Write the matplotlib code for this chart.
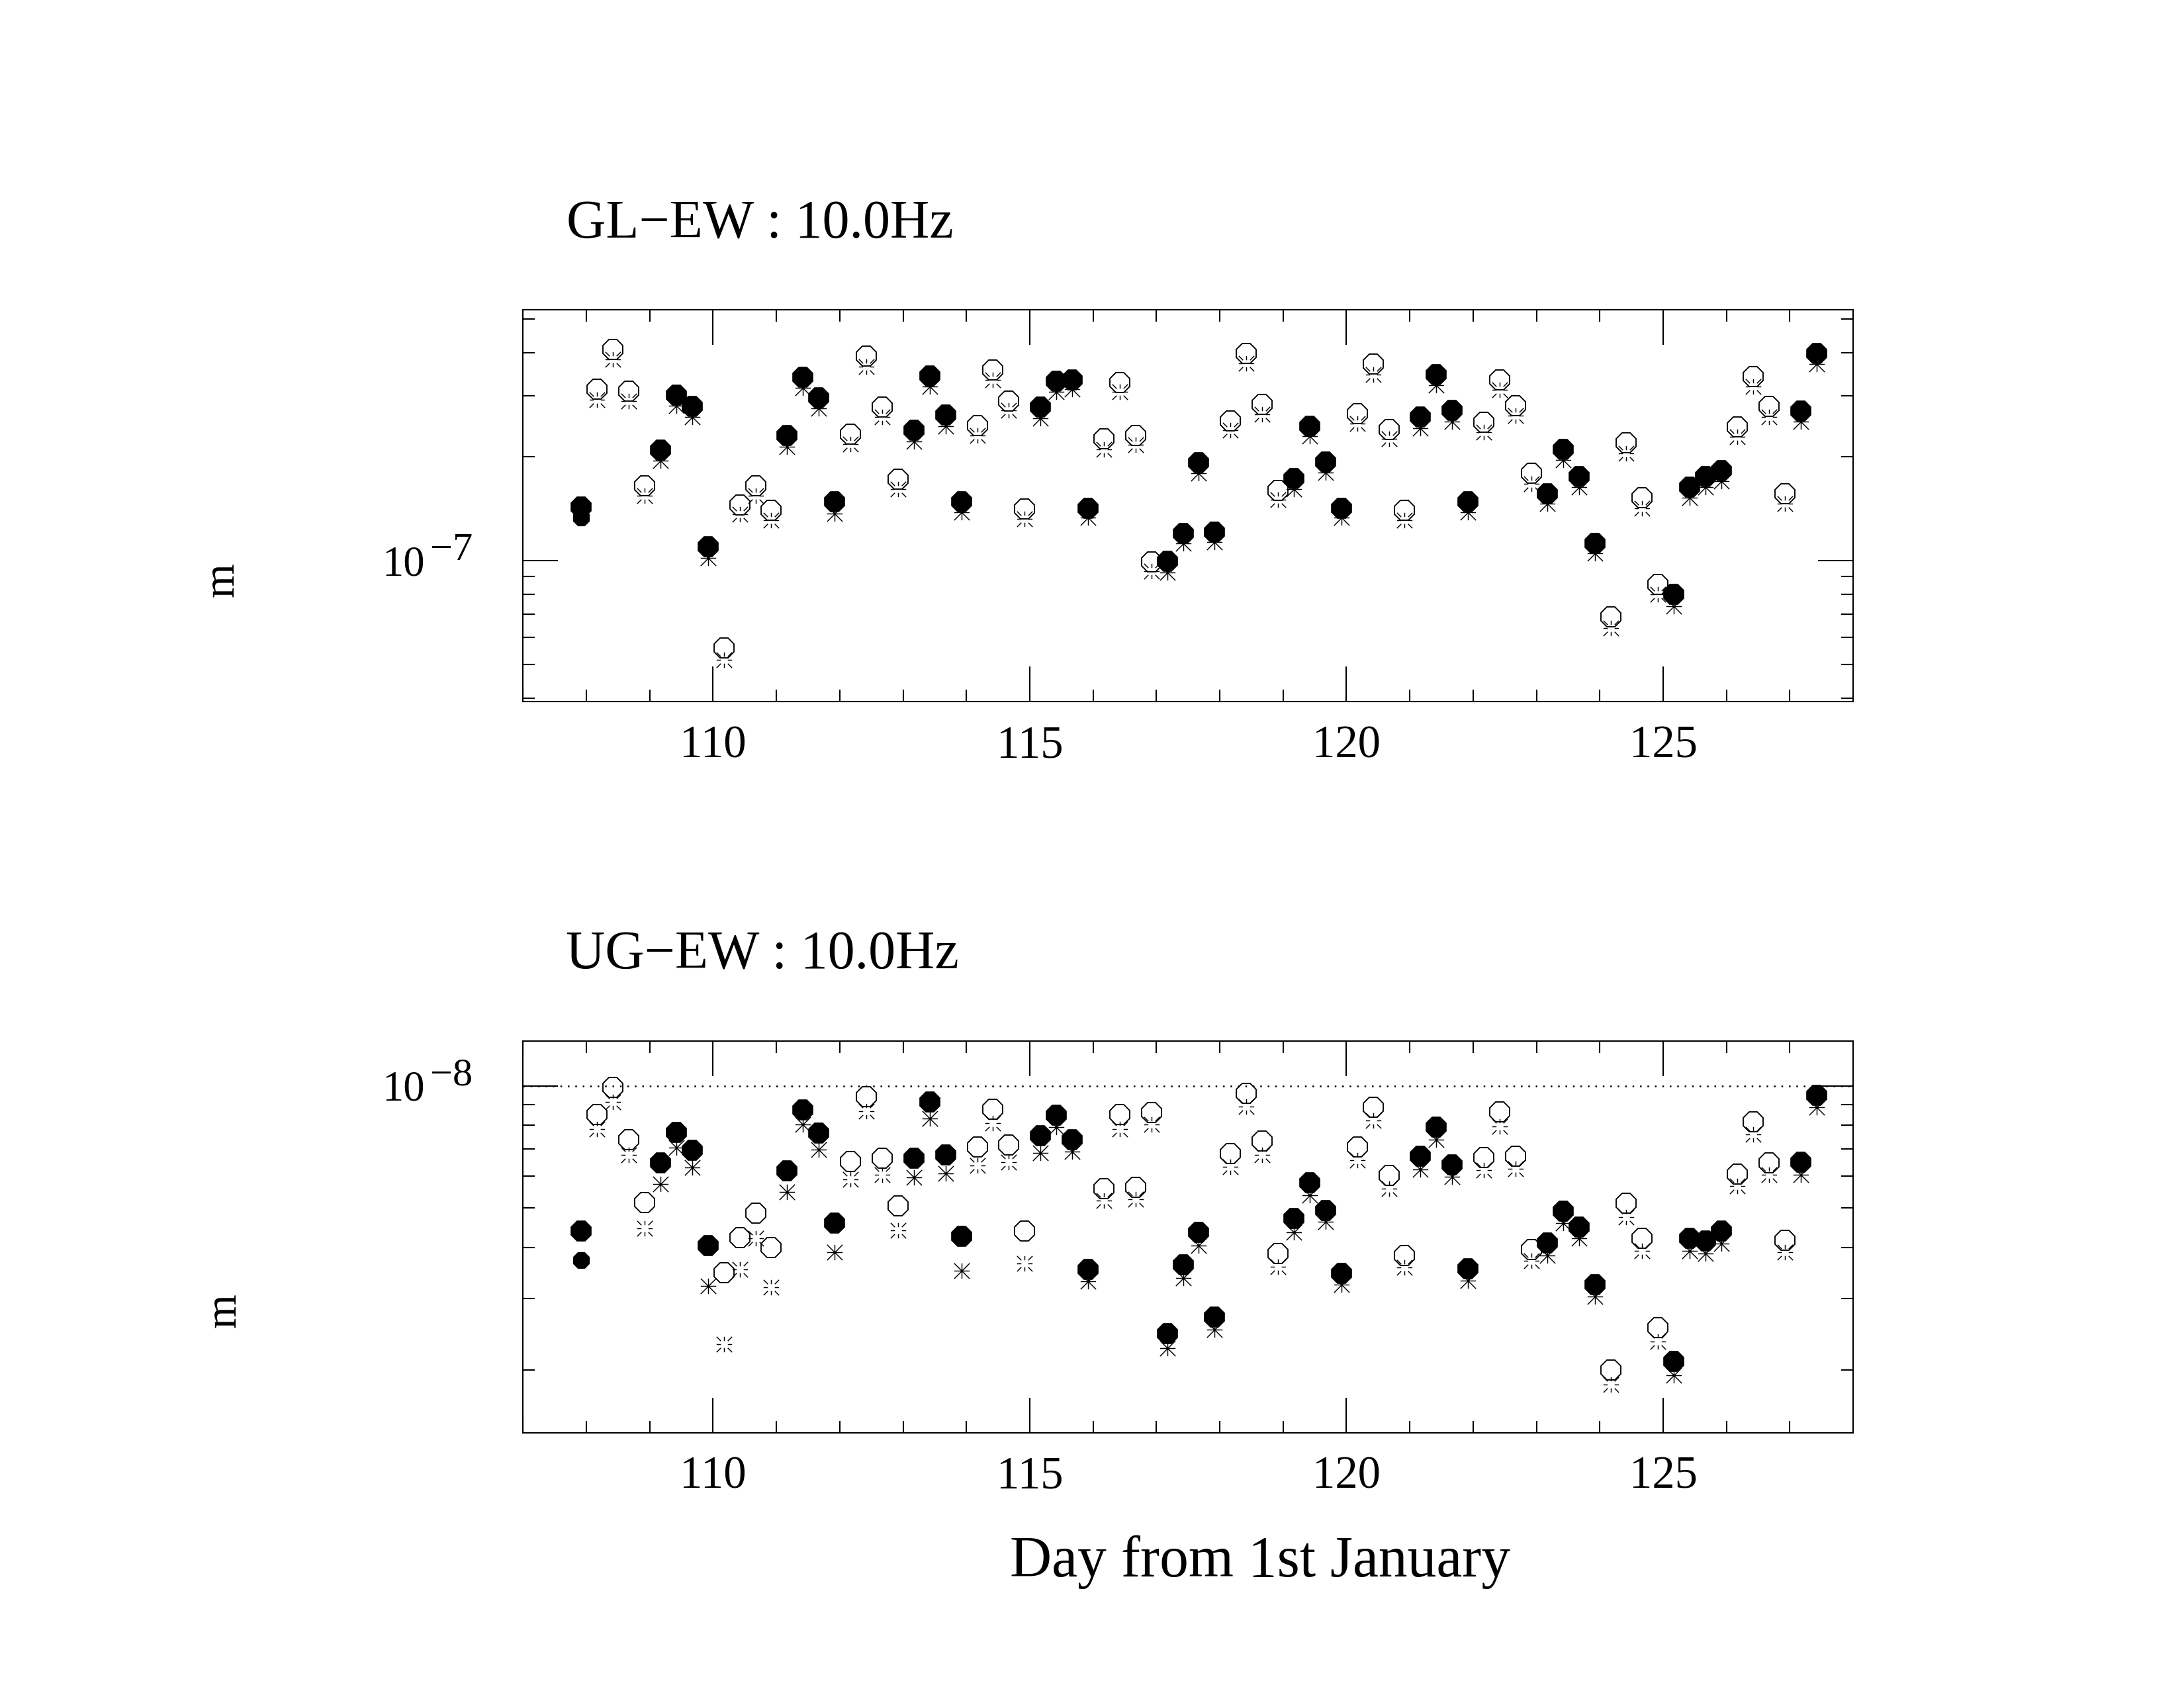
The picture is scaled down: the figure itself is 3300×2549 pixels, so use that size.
"""GL-EW and UG-EW amplitude at 10.0 Hz, days 108-127."""

import matplotlib
matplotlib.use('Agg')
import matplotlib.pyplot as plt
import numpy as np
from matplotlib.path import Path
from matplotlib.ticker import FixedLocator, LogLocator, MultipleLocator, NullFormatter
from matplotlib.transforms import ScaledTranslation

# sample times, day of year
days = [
    107.92, 108.17, 108.42, 108.67, 108.92, 109.17, 109.42, 109.67,
    109.92, 110.17, 110.42, 110.67, 110.92, 111.17, 111.42, 111.67,
    111.92, 112.17, 112.42, 112.67, 112.92, 113.17, 113.42, 113.67,
    113.92, 114.17, 114.42, 114.67, 114.92, 115.17, 115.42, 115.67,
    115.92, 116.17, 116.42, 116.67, 116.92, 117.17, 117.42, 117.67,
    117.92, 118.17, 118.42, 118.67, 118.92, 119.17, 119.42, 119.67,
    119.92, 120.17, 120.42, 120.67, 120.92, 121.17, 121.42, 121.67,
    121.92, 122.17, 122.42, 122.67, 122.92, 123.17, 123.42, 123.67,
    123.92, 124.17, 124.42, 124.67, 124.92, 125.17, 125.42, 125.67,
    125.92, 126.17, 126.42, 126.67, 126.92, 127.17, 127.42,
]
# F = filled octagon / solid asterisk, O = open octagon / broken asterisk
sessions = ('F' 'OOOOFFFF' 'OOOOFFFF' 'OOOOFFFF' 'OOOOFFFF' 'OOOOFFFF'
            'OOOOFFFF' 'OOOOFFFF' 'OOOOFFFF' 'OOOOFFFF' 'OOOO' 'FF')

gl_oct = [
    1.43e-7, 3.13e-7, 4.09e-7, 3.10e-7, 1.65e-7, 2.09e-7, 3.01e-7, 2.80e-7,
    1.10e-7, 5.59e-8, 1.45e-7, 1.65e-7, 1.40e-7, 2.30e-7, 3.39e-7, 2.96e-7,
    1.48e-7, 2.32e-7, 3.91e-7, 2.78e-7, 1.72e-7, 2.38e-7, 3.43e-7, 2.64e-7,
    1.48e-7, 2.46e-7, 3.56e-7, 2.90e-7, 1.41e-7, 2.78e-7, 3.31e-7, 3.34e-7,
    1.42e-7, 2.25e-7, 3.28e-7, 2.30e-7, 9.94e-8, 9.98e-8, 1.20e-7, 1.92e-7,
    1.21e-7, 2.54e-7, 3.97e-7, 2.83e-7, 1.60e-7, 1.73e-7, 2.45e-7, 1.93e-7,
    1.42e-7, 2.66e-7, 3.70e-7, 2.40e-7, 1.40e-7, 2.60e-7, 3.46e-7, 2.72e-7,
    1.48e-7, 2.52e-7, 3.34e-7, 2.81e-7, 1.79e-7, 1.56e-7, 2.10e-7, 1.75e-7,
    1.12e-7, 6.89e-8, 2.19e-7, 1.52e-7, 8.54e-8, 7.99e-8, 1.63e-7, 1.75e-7,
    1.82e-7, 2.44e-7, 3.41e-7, 2.79e-7, 1.56e-7, 2.71e-7, 3.97e-7,
]
gl_ast = [
    1.33e-7, 2.92e-7, 3.82e-7, 2.90e-7, 1.54e-7, 1.95e-7, 2.81e-7, 2.60e-7,
    1.02e-7, 5.16e-8, 1.36e-7, 1.54e-7, 1.31e-7, 2.14e-7, 3.16e-7, 2.76e-7,
    1.37e-7, 2.17e-7, 3.65e-7, 2.60e-7, 1.61e-7, 2.21e-7, 3.19e-7, 2.45e-7,
    1.38e-7, 2.30e-7, 3.34e-7, 2.72e-7, 1.32e-7, 2.58e-7, 3.08e-7, 3.13e-7,
    1.33e-7, 2.10e-7, 3.08e-7, 2.16e-7, 9.32e-8, 9.23e-8, 1.12e-7, 1.79e-7,
    1.13e-7, 2.38e-7, 3.72e-7, 2.65e-7, 1.50e-7, 1.61e-7, 2.29e-7, 1.80e-7,
    1.33e-7, 2.49e-7, 3.45e-7, 2.25e-7, 1.31e-7, 2.42e-7, 3.22e-7, 2.53e-7,
    1.38e-7, 2.35e-7, 3.12e-7, 2.63e-7, 1.67e-7, 1.46e-7, 1.96e-7, 1.63e-7,
    1.05e-7, 6.37e-8, 2.04e-7, 1.42e-7, 7.99e-8, 7.39e-8, 1.52e-7, 1.63e-7,
    1.70e-7, 2.28e-7, 3.19e-7, 2.60e-7, 1.46e-7, 2.53e-7, 3.70e-7,
]
ug_oct = [
    4.40e-9, 8.51e-9, 9.91e-9, 7.37e-9, 5.16e-9, 6.46e-9, 7.69e-9, 6.94e-9,
    4.04e-9, 3.47e-9, 4.23e-9, 4.86e-9, 4.00e-9, 6.17e-9, 8.72e-9, 7.66e-9,
    4.60e-9, 6.52e-9, 9.40e-9, 6.64e-9, 5.07e-9, 6.64e-9, 9.14e-9, 6.77e-9,
    4.27e-9, 7.08e-9, 8.76e-9, 7.14e-9, 4.40e-9, 7.54e-9, 8.46e-9, 7.37e-9,
    3.54e-9, 5.59e-9, 8.49e-9, 5.63e-9, 8.58e-9, 2.46e-9, 3.63e-9, 4.36e-9,
    2.70e-9, 6.80e-9, 9.60e-9, 7.31e-9, 3.87e-9, 4.71e-9, 5.77e-9, 4.94e-9,
    3.45e-9, 7.08e-9, 8.86e-9, 6.02e-9, 3.83e-9, 6.70e-9, 7.91e-9, 6.39e-9,
    3.55e-9, 6.67e-9, 8.62e-9, 6.72e-9, 3.96e-9, 4.11e-9, 4.91e-9, 4.50e-9,
    3.24e-9, 2.00e-9, 5.14e-9, 4.21e-9, 2.54e-9, 2.10e-9, 4.21e-9, 4.15e-9,
    4.39e-9, 6.07e-9, 8.16e-9, 6.47e-9, 4.16e-9, 6.49e-9, 9.48e-9,
]
ug_ast = [
    3.72e-9, 7.84e-9, 9.11e-9, 6.75e-9, 4.46e-9, 5.74e-9, 7.05e-9, 6.29e-9,
    3.22e-9, 2.31e-9, 3.53e-9, 4.22e-9, 3.19e-9, 5.47e-9, 8.03e-9, 6.97e-9,
    3.90e-9, 5.88e-9, 8.66e-9, 6.05e-9, 4.41e-9, 5.95e-9, 8.32e-9, 6.09e-9,
    3.51e-9, 6.36e-9, 8.10e-9, 6.49e-9, 3.65e-9, 6.83e-9, 7.91e-9, 6.88e-9,
    3.30e-9, 5.21e-9, 7.84e-9, 5.25e-9, 8.03e-9, 2.26e-9, 3.37e-9, 4.04e-9,
    2.51e-9, 6.32e-9, 8.90e-9, 6.77e-9, 3.59e-9, 4.36e-9, 5.37e-9, 4.63e-9,
    3.24e-9, 6.56e-9, 8.22e-9, 5.59e-9, 3.57e-9, 6.22e-9, 7.37e-9, 5.97e-9,
    3.31e-9, 6.21e-9, 7.94e-9, 6.24e-9, 3.71e-9, 3.83e-9, 4.59e-9, 4.21e-9,
    3.03e-9, 1.84e-9, 4.75e-9, 3.92e-9, 2.35e-9, 1.94e-9, 3.92e-9, 3.86e-9,
    4.09e-9, 5.66e-9, 7.60e-9, 6.05e-9, 3.89e-9, 6.05e-9, 8.86e-9,
]

plt.rcParams['font.family'] = ['Liberation Serif', 'DejaVu Serif']
plt.rcParams['axes.linewidth'] = 0.5


def _asterisk(hole):
    """Eight-armed asterisk drawn in a square; hole > 0 leaves the centre blank."""
    arms = [(0, 1), (1, 1), (1, 0), (1, -1), (0, -1), (-1, -1), (-1, 0), (-1, 1)]
    verts, codes = [], []
    for dx, dy in arms:
        verts += [(hole * dx, hole * dy), (dx, dy)]
        codes += [Path.MOVETO, Path.LINETO]
    return Path(verts, codes)


SOLID_STAR = _asterisk(0.0)
BROKEN_STAR = _asterisk(0.45)


def _power_label(ax, value, exponent):
    fig = ax.figure
    base = ax.get_yaxis_transform()

    def shift(dx, dy):
        return base + ScaledTranslation(dx / 72, dy / 72, fig.dpi_scale_trans)

    ax.text(0, value, '10', transform=shift(-35.6, -5.3),
            ha='right', va='baseline', fontsize=15.5)
    ax.text(0, value, '\u2212' + str(exponent), transform=shift(-33.6, 0.3),
            ha='left', va='baseline', fontsize=14.5)


def _panel(ax, octagon, asterisk, ylim, major, exponent):
    x = np.asarray(days)
    oct_v = np.asarray(octagon)
    ast_v = np.asarray(asterisk)
    filled = np.array([s == 'F' for s in sessions])
    dot = np.zeros(len(x), dtype=bool)
    dot[0] = True  # first sample: second value shown as a small dot

    ax.plot(x[filled & ~dot], ast_v[filled & ~dot], ls='none', marker=SOLID_STAR,
            ms=5.6, mec='k', mfc='none', mew=0.35, zorder=2)
    ax.plot(x[~filled], ast_v[~filled], ls='none', marker=BROKEN_STAR,
            ms=5.6, mec='k', mfc='none', mew=0.35, zorder=2)
    ax.plot(x[dot], ast_v[dot], ls='none', marker='8',
            ms=6.2, mec='k', mfc='k', mew=0.3, zorder=2)
    ax.plot(x[filled], oct_v[filled], ls='none', marker='8',
            ms=8.0, mec='k', mfc='k', mew=0.4, zorder=3)
    ax.plot(x[~filled], oct_v[~filled], ls='none', marker='8',
            ms=8.0, mec='k', mfc='none', mew=0.45, zorder=3)

    ax.set_xlim(107, 128)
    ax.set_yscale('log')
    ax.set_ylim(*ylim)
    ax.xaxis.set_major_locator(MultipleLocator(5))
    ax.xaxis.set_minor_locator(MultipleLocator(1))
    ax.yaxis.set_major_locator(FixedLocator([major]))
    ax.yaxis.set_minor_locator(LogLocator(subs=(2, 3, 4, 5, 6, 7, 8, 9), numticks=30))
    ax.yaxis.set_major_formatter(NullFormatter())
    ax.yaxis.set_minor_formatter(NullFormatter())
    ax.tick_params(which='both', direction='in', top=True, right=True, width=0.5)
    ax.tick_params(which='major', length=12.7)
    ax.tick_params(which='minor', length=4.3)
    ax.tick_params(axis='x', which='major', labelsize=16.5, pad=8.5)
    _power_label(ax, major, exponent)


def main():
    fig = plt.figure(figsize=(11, 8.4967), dpi=300)
    ax_gl = fig.add_axes([0.2395, 0.5841, 0.6090, 0.2321])
    ax_ug = fig.add_axes([0.2395, 0.1507, 0.6090, 0.2323])

    _panel(ax_gl, gl_oct, gl_ast, (3.91e-8, 5.31e-7), 1e-7, 7)
    _panel(ax_ug, ug_oct, ug_ast, (1.40e-9, 1.29e-8), 1e-8, 8)
    ax_ug.axhline(1e-8, color='k', lw=0.6, ls=(0, (1, 3.5)), zorder=1)

    fig.text(0.2594, 0.8588, 'GL\u2212EW : 10.0Hz', fontsize=19.7, ha='left', va='baseline')
    fig.text(0.2591, 0.4257, 'UG\u2212EW : 10.0Hz', fontsize=19.7, ha='left', va='baseline')
    fig.text(0.1018, 0.6563, 'm', fontsize=16, rotation=90, ha='center', va='center')
    fig.text(0.1027, 0.2232, 'm', fontsize=16, rotation=90, ha='center', va='center')
    fig.text(0.577, 0.0655, 'Day from 1st January', fontsize=21, ha='center', va='baseline')

    fig.savefig('out.png', dpi=300)
    plt.close(fig)


if __name__ == '__main__':
    main()
